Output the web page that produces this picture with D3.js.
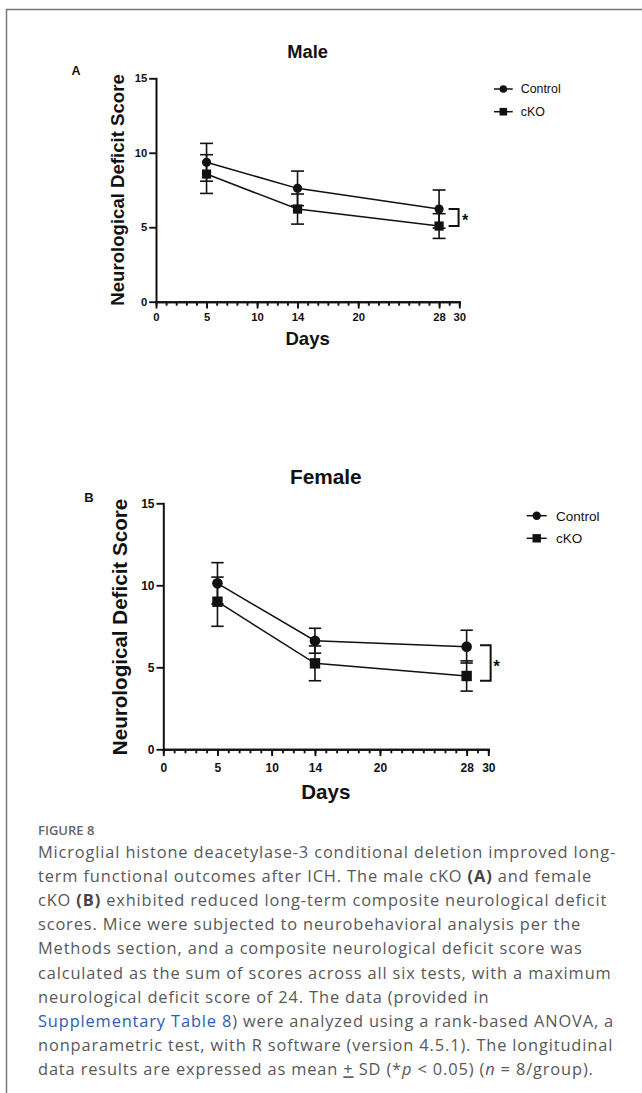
<!DOCTYPE html>
<html>
<head>
<meta charset="utf-8">
<script src="https://cdn.jsdelivr.net/npm/d3@7"></script>
<style>
  body { margin: 0; background: #fff; }
  svg { display: block; }
  .chart text { font-family: "Liberation Sans", Arial, sans-serif; font-weight: bold; fill: #111; }
  .caption { font-family: "Open Sans", "Noto Sans", sans-serif; fill: #585858; }
</style>
</head>
<body>
<script>
// ---- data ----
var days = [5, 14, 28];
var xMajorTicks = [0, 5, 10, 14, 20, 28, 30];
var xMinorTicks = d3.range(0, 31);
var yTicks = [0, 5, 10, 15];

var maleControl   = [9.36, 7.61, 6.22];
var maleControlSD = [1.27, 1.16, 1.28];
var maleCKO       = [8.57, 6.22, 5.08];
var maleCKOSD     = [1.30, 1.01, 0.83];
var maleBracket   = [6.22, 5.08];

var femaleControl   = [10.12, 6.62, 6.26];
var femaleControlSD = [1.26, 0.76, 1.00];
var femaleCKO       = [9.00, 5.24, 4.47];
var femaleCKOSD     = [1.50, 1.06, 0.92];
var femaleBracket   = [6.34, 4.18];

var seriesNames = ["Control", "cKO"];

var captionLines = [
  "Microglial histone deacetylase-3 conditional deletion improved long-",
  "term functional outcomes after ICH. The male cKO |(A)| and female",
  "cKO |(B)| exhibited reduced long-term composite neurological deficit",
  "scores. Mice were subjected to neurobehavioral analysis per the",
  "Methods section, and a composite neurological deficit score was",
  "calculated as the sum of scores across all six tests, with a maximum",
  "neurological deficit score of 24. The data (provided in",
  "~Supplementary Table 8~) were analyzed using a rank-based ANOVA, a",
  "nonparametric test, with R software (version 4.5.1). The longitudinal",
  "data results are expressed as mean _+_ SD (*/p/ < 0.05) (/n/ = 8/group)."
];

var W = 642, H = 1093;

var svg = d3.select("body").append("svg")
    .attr("width", W)
    .attr("height", H);

svg.append("rect").attr("width", W).attr("height", H).attr("fill", "#fff");

// frame of the page (top and left edges only)
svg.append("path")
    .attr("d", "M6.5," + H + "V9.5H" + W)
    .attr("fill", "none")
    .attr("stroke", "#777")
    .attr("stroke-width", 1.5);

var panels = [
  { letter: "A", title: "Male", control: maleControl, controlSD: maleControlSD,
    cko: maleCKO, ckoSD: maleCKOSD, bracket: maleBracket,
    x0: 156, x1: 459.3, yBottom: 301.7, yTop: 78.3,
    titleY: 57.5, letterX: 76, letterY: 75, letterSize: 12.5,
    ylabX: 124, ylabY: 190, labSize: 18.6, titleSize: 18.3,
    daysY: 345, tickSize: 11.3, tickLabY: 20.5, r: 4.6, sq: 9.2, cap: 6.5,
    brX0: 9.5, brX1: 19.5, starDX: 26, starDY: 8,
    legX0: 494, legX1: 512.7, legY: [89, 111.7], legTextX: 520.7, legSize: 12.4, legR: 3.8, legSq: 7.6 },
  { letter: "B", title: "Female", control: femaleControl, controlSD: femaleControlSD,
    cko: femaleCKO, ckoSD: femaleCKOSD, bracket: femaleBracket,
    x0: 163.3, x1: 488.3, yBottom: 749.3, yTop: 503.3,
    titleY: 483.5, letterX: 89, letterY: 501.7, letterSize: 13,
    ylabX: 127, ylabY: 627, labSize: 20.6, titleSize: 20.8,
    daysY: 798.5, tickSize: 12, tickLabY: 23.5, r: 5.3, sq: 10.4, cap: 6.2,
    brX0: 13.4, brX1: 24, starDX: 30, starDY: 9,
    legX0: 526.7, legX1: 546.7, legY: [515.7, 538.3], legTextX: 556, legSize: 13.5, legR: 4.2, legSq: 8.4 }
];

panels.forEach(drawPanel);

function drawPanel(p) {
  var g = svg.append("g").attr("class", "chart");

  var x = d3.scaleLinear().domain([0, 30]).range([p.x0, p.x1]);
  var y = d3.scaleLinear().domain([0, 15]).range([p.yBottom, p.yTop]);

  // title and panel letter
  g.append("text")
      .attr("x", (p.x0 + p.x1) / 2).attr("y", p.titleY)
      .attr("text-anchor", "middle")
      .style("font-size", p.titleSize + "px")
      .text(p.title);
  g.append("text")
      .attr("x", p.letterX).attr("y", p.letterY)
      .attr("text-anchor", "middle")
      .style("font-size", p.letterSize + "px")
      .text(p.letter);

  // x axis: minor ticks every day, major ticks labelled
  var xMinor = g.append("g")
      .attr("transform", "translate(0," + p.yBottom + ")")
      .call(d3.axisBottom(x).tickValues(xMinorTicks).tickSize(4).tickSizeOuter(0).tickFormat(""));
  var xMajor = g.append("g")
      .attr("transform", "translate(0," + p.yBottom + ")")
      .call(d3.axisBottom(x).tickValues(xMajorTicks).tickSize(6.8).tickSizeOuter(0).tickPadding(p.tickLabY - 6.8 - 9));
  var yAxis = g.append("g")
      .attr("transform", "translate(" + p.x0 + ",0)")
      .call(d3.axisLeft(y).tickValues(yTicks).tickSize(6.8).tickSizeOuter(0).tickPadding(2));

  [xMinor, xMajor, yAxis].forEach(function(a) {
    a.select(".domain").attr("stroke", "#111").attr("stroke-width", 2).attr("stroke-linecap", "square");
    a.selectAll(".tick line").attr("stroke", "#111").attr("stroke-width", 1.9);
    a.selectAll(".tick text")
        .attr("fill", "#111")
        .style("font-family", '"Liberation Sans", Arial, sans-serif')
        .style("font-weight", "bold")
        .style("font-size", p.tickSize + "px");
  });

  // axis titles
  g.append("text")
      .attr("transform", "translate(" + p.ylabX + "," + p.ylabY + ") rotate(-90)")
      .attr("text-anchor", "middle")
      .style("font-size", p.labSize + "px")
      .text("Neurological Deficit Score");
  g.append("text")
      .attr("x", (p.x0 + p.x1) / 2).attr("y", p.daysY)
      .attr("text-anchor", "middle")
      .style("font-size", p.labSize + "px")
      .text("Days");

  var series = [
    { mean: p.control, sd: p.controlSD, shape: "circle" },
    { mean: p.cko, sd: p.ckoSD, shape: "square" }
  ];

  var line = d3.line()
      .x(function(d) { return x(d.day); })
      .y(function(d) { return y(d.v); });

  series.forEach(function(s) {
    var pts = days.map(function(d, i) { return { day: d, v: s.mean[i], sd: s.sd[i] }; });

    g.append("path")
        .datum(pts)
        .attr("d", line)
        .attr("fill", "none")
        .attr("stroke", "#111")
        .attr("stroke-width", 1.5);

    // error bars (mean +/- SD)
    var eb = g.append("g").selectAll("g").data(pts).enter().append("g")
        .attr("stroke", "#111").attr("stroke-width", 1.6);
    eb.append("line")
        .attr("x1", function(d) { return x(d.day); })
        .attr("x2", function(d) { return x(d.day); })
        .attr("y1", function(d) { return y(d.v + d.sd); })
        .attr("y2", function(d) { return y(d.v - d.sd); });
    [1, -1].forEach(function(sign) {
      eb.append("line")
          .attr("x1", function(d) { return x(d.day) - p.cap; })
          .attr("x2", function(d) { return x(d.day) + p.cap; })
          .attr("y1", function(d) { return y(d.v + sign * d.sd); })
          .attr("y2", function(d) { return y(d.v + sign * d.sd); });
    });
  });

  // markers on top
  series.forEach(function(s) {
    days.forEach(function(d, i) {
      drawMarker(g, s.shape, x(d), y(s.mean[i]), s.shape === "circle" ? p.r : p.sq);
    });
  });

  // significance bracket
  var bx = x(days[days.length - 1]);
  var b0 = y(p.bracket[0]), b1 = y(p.bracket[1]);
  g.append("path")
      .attr("d", "M" + (bx + p.brX0) + "," + b0 + "H" + (bx + p.brX1) + "V" + b1 + "H" + (bx + p.brX0))
      .attr("fill", "none")
      .attr("stroke", "#111")
      .attr("stroke-width", 2);
  g.append("text")
      .attr("x", bx + p.starDX).attr("y", (b0 + b1) / 2 + p.starDY)
      .attr("text-anchor", "middle")
      .style("font-size", (p.tickSize + 5) + "px")
      .text("*");

  // legend
  seriesNames.forEach(function(name, i) {
    var ly = p.legY[i];
    g.append("line")
        .attr("x1", p.legX0).attr("x2", p.legX1)
        .attr("y1", ly).attr("y2", ly)
        .attr("stroke", "#111").attr("stroke-width", 1.5);
    drawMarker(g, series[i].shape, (p.legX0 + p.legX1) / 2, ly, i === 0 ? p.legR : p.legSq);
    g.append("text")
        .attr("x", p.legTextX).attr("y", ly + p.legSize * 0.36)
        .style("font-weight", "normal")
        .style("font-size", p.legSize + "px")
        .text(name);
  });
}

function drawMarker(g, shape, cx, cy, size) {
  if (shape === "circle") {
    g.append("circle").attr("cx", cx).attr("cy", cy).attr("r", size).attr("fill", "#111");
  } else {
    g.append("rect")
        .attr("x", cx - size / 2).attr("y", cy - size / 2)
        .attr("width", size).attr("height", size)
        .attr("fill", "#111");
  }
}

// ---- caption ----
var cap = svg.append("g").attr("class", "caption");
cap.append("text")
    .attr("x", 38).attr("y", 835)
    .style("font-size", "13px")
    .style("font-weight", "600")
    .style("fill", "#666")
    .text("FIGURE 8");

captionLines.forEach(function(str, i) {
  var t = cap.append("text")
      .attr("x", 38).attr("y", 857.5 + i * 24.2)
      .style("font-size", "16.4px")
      .style("letter-spacing", "0.86px");
  // markers: |bold|  ~link~  /italic/  _underline_
  var parts = str.split(/(\|[^|]+\||~[^~]+~|\/[a-z]\/|_[^_]+_)/);
  parts.forEach(function(s) {
    if (!s) return;
    var ts = t.append("tspan");
    if (s[0] === "|") ts.style("font-weight", "bold").style("fill", "#444").text(s.slice(1, -1));
    else if (s[0] === "~") ts.style("fill", "#2a5db0").text(s.slice(1, -1));
    else if (s[0] === "/" && s.length === 3) ts.style("font-style", "italic").text(s.slice(1, -1));
    else if (s[0] === "_") ts.style("text-decoration", "underline").text(s.slice(1, -1));
    else ts.text(s);
  });
});
</script>
</body>
</html>
